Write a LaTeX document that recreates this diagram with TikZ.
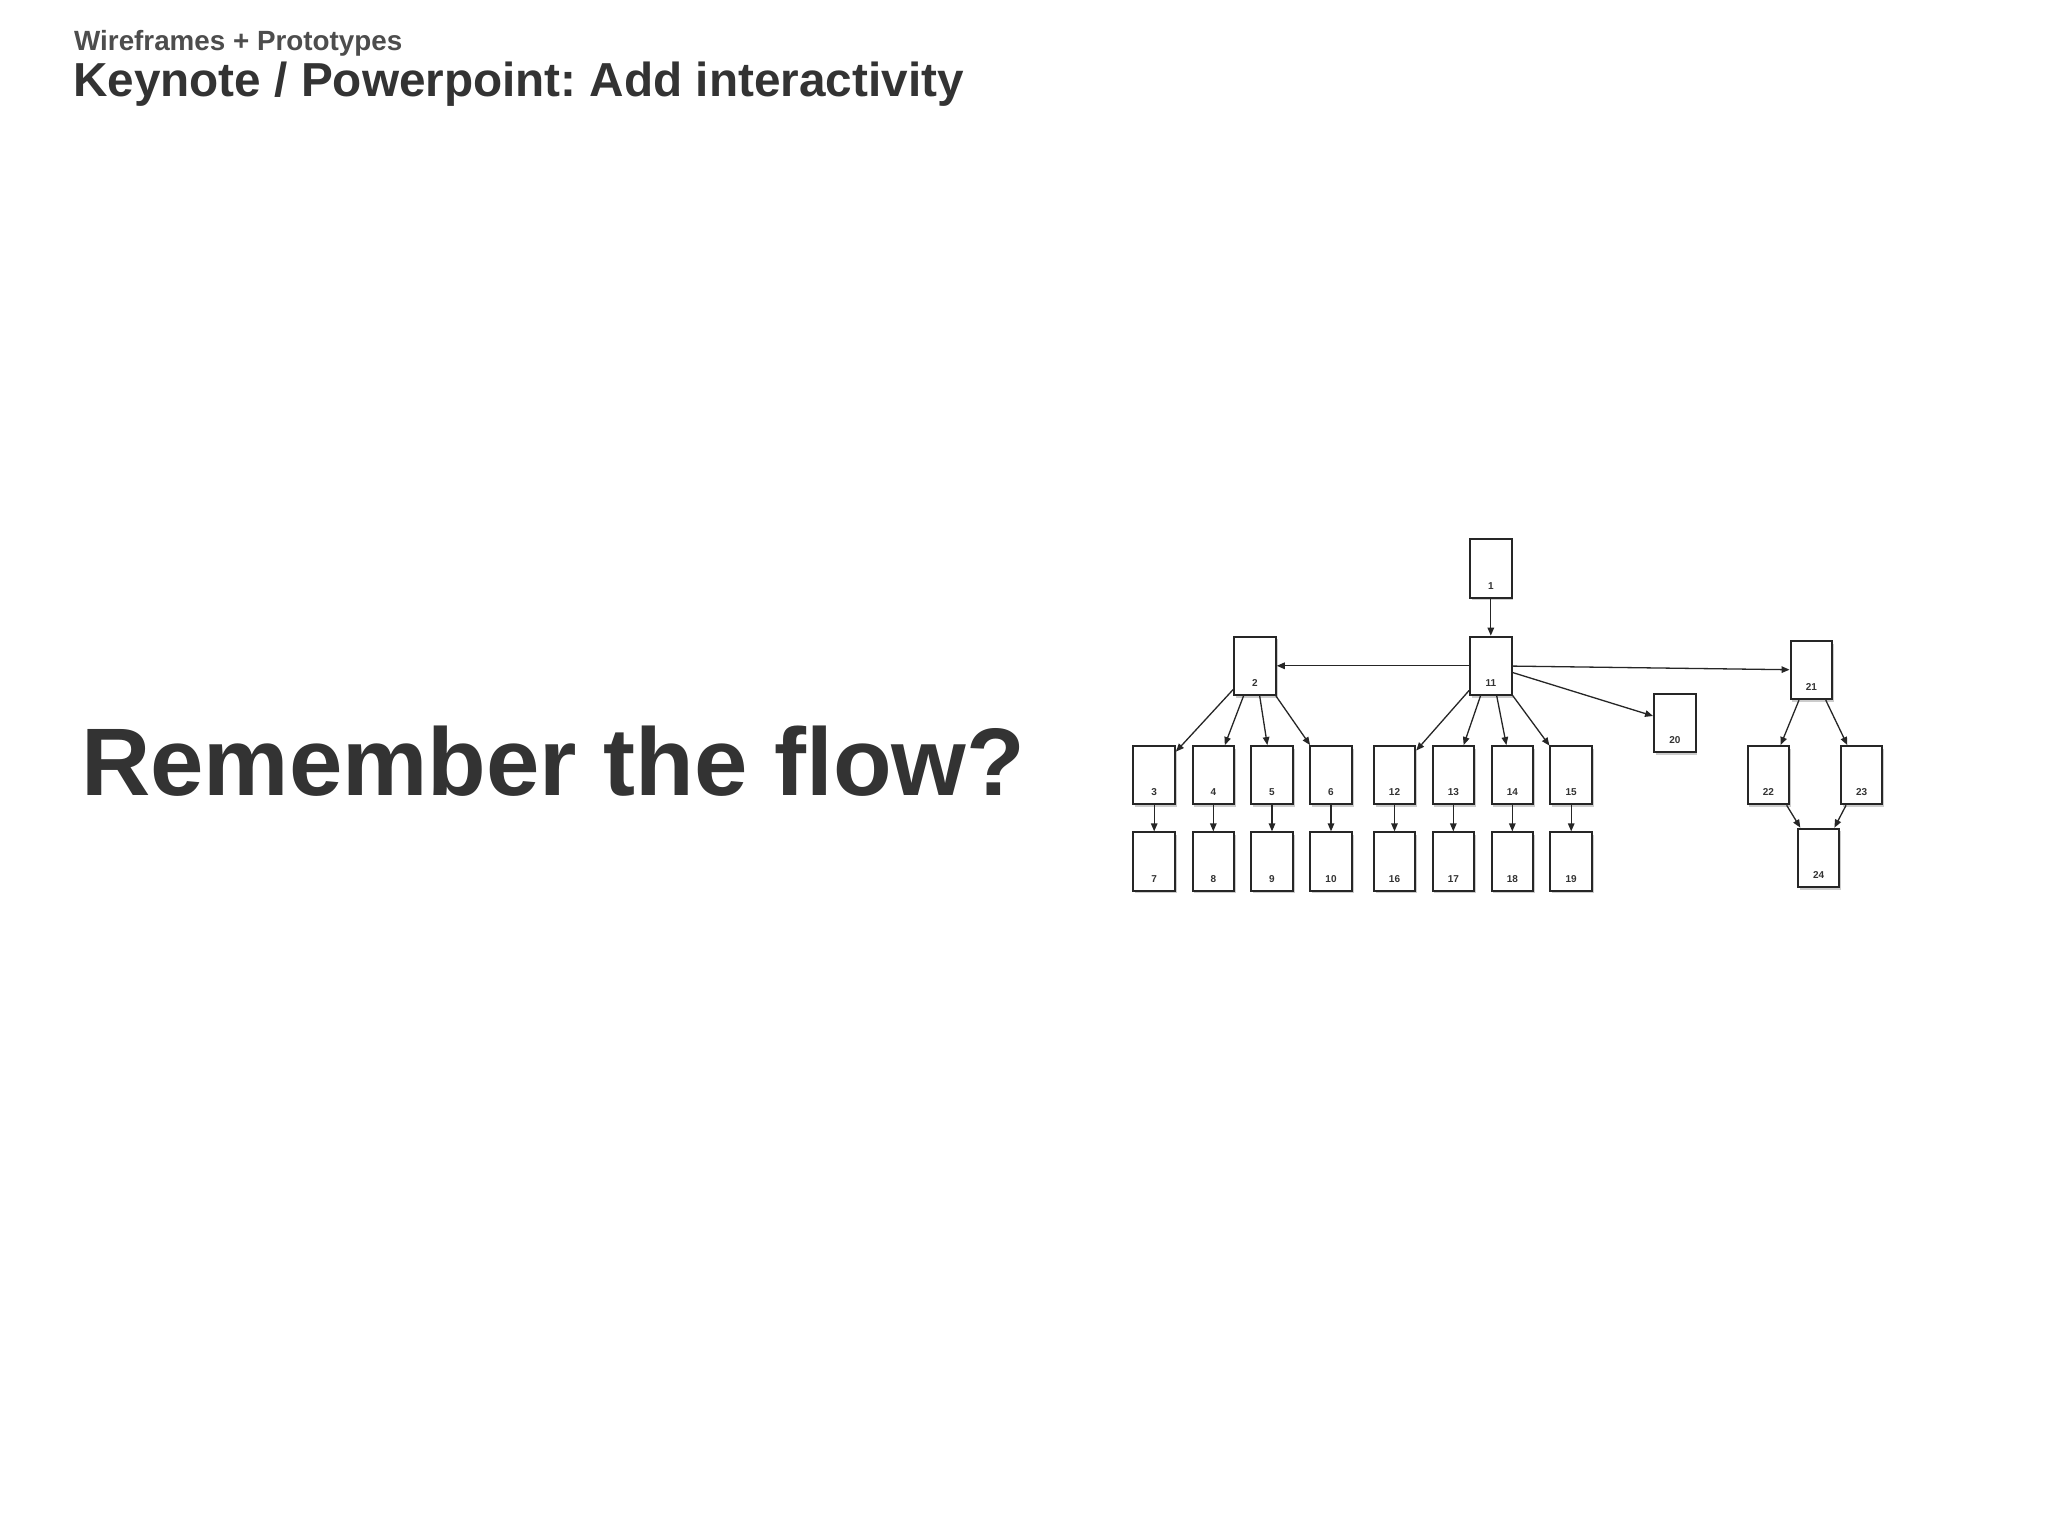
\documentclass[tikz,border=0pt]{standalone}
\usepackage{fontspec}
\setmainfont{Liberation Sans}
\usetikzlibrary{arrows.meta,shadows}
\definecolor{ink}{HTML}{333333}
\definecolor{subink}{HTML}{4D4D4D}
\frenchspacing
\begin{document}
\begin{tikzpicture}[x=1pt,y=-1pt,
  pg/.style={draw=black!85, line width=2pt, fill=white, minimum width=41.5pt,
    minimum height=58.3pt, inner sep=0pt,
    drop shadow={opacity=0.4,shadow xshift=1.8pt,shadow yshift=-2.8pt}},
  num/.style={anchor=base, inner sep=0pt, text=ink, font=\fontsize{10}{11}\selectfont\bfseries},
  link/.style={draw=black!85, line width=1.3pt, -{Triangle[length=8pt,width=6.5pt]}},
  subtitle/.style={anchor=base west, inner sep=0pt, text=subink, font=\fontsize{27.8}{29}\selectfont\bfseries},
  title/.style={anchor=base west, inner sep=0pt, text=ink, font=\fontsize{47.7}{50}\selectfont\bfseries},
  big/.style={anchor=base west, inner sep=0pt, text=ink, font=\fontsize{96}{100}\selectfont\bfseries}]
\fill[white] (0,0) rectangle (2048,1536);
\useasboundingbox (0,0) rectangle (2048,1536);

\node[subtitle] (sub) at (74,51) {Wireframes + Prototypes};
\node[title] (ttl) at (73,97) {Keynote / Powerpoint: Add interactivity};
\node[big] (flow) at (81,795) {Remember the flow?};

\foreach \n/\x/\y in {1/1490.8/568.5, 11/1490.8/665.8, 2/1255/665.8, 21/1811.3/670,
  20/1674.8/722.7,
  3/1154.2/775.2, 4/1213.3/775.2, 5/1272/775.2, 6/1331/775.2,
  12/1394.5/775.2, 13/1453.3/775.2, 14/1512.3/775.2, 15/1571.2/775.2,
  22/1768.3/775.2, 23/1861.7/775.2,
  7/1154.2/861.5, 8/1213.3/861.5, 9/1272/861.5, 10/1331/861.5,
  16/1394.5/861.5, 17/1453.3/861.5, 18/1512.3/861.5, 19/1571.2/861.5,
  24/1818.7/857.8}{
  \node[pg] (n\n) at (\x,\y) {};
  \node[num] (t\n) at ([yshift=9.5pt]n\n.south) {\n};
}

\foreach \a/\b in {1/11, 11/2, 11/21, 11/20, 2/3, 2/4, 2/5, 2/6,
  11/12, 11/13, 11/14, 11/15, 21/22, 21/23, 22/24, 23/24,
  3/7, 4/8, 5/9, 6/10, 12/16, 13/17, 14/18, 15/19}{
  \draw[link] (n\a) -- (n\b);
}
\end{tikzpicture}
\end{document}
